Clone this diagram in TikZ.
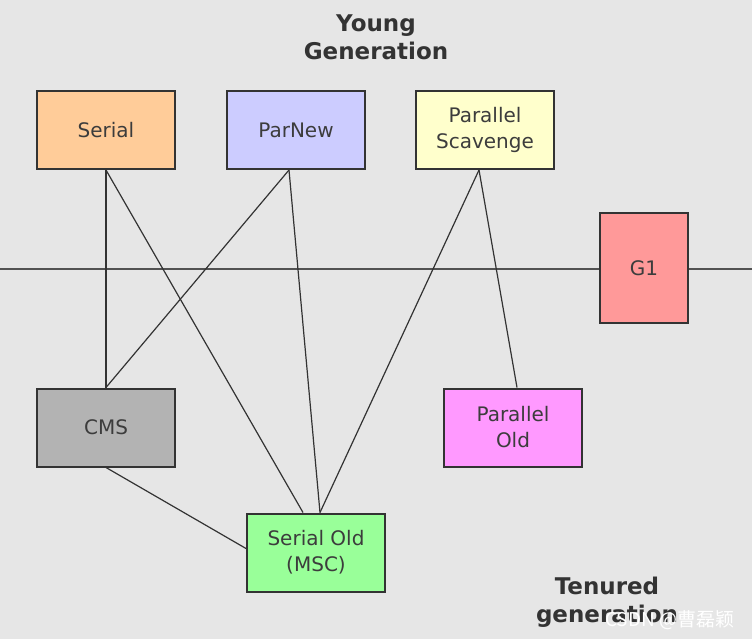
\documentclass[tikz,border=0pt]{standalone}
\usepackage{fontspec}
\setmainfont{DejaVu Sans}
\newfontfamily\cjkfont{Noto Sans CJK SC}
\usetikzlibrary{calc}
\definecolor{bg}{HTML}{E6E6E6}
\definecolor{ink}{HTML}{333333}
\definecolor{txt}{HTML}{3C3C3C}
\definecolor{cSerial}{HTML}{FFCC99}
\definecolor{cParNew}{HTML}{CCCCFF}
\definecolor{cPS}{HTML}{FFFFCC}
\definecolor{cGone}{HTML}{FF9999}
\definecolor{cCMS}{HTML}{B3B3B3}
\definecolor{cPO}{HTML}{FF99FF}
\definecolor{cSO}{HTML}{99FF99}
\tikzset{
  gcbox/.style={draw=ink, line width=2pt, minimum width=138pt, minimum height=78pt,
    inner sep=0pt, align=center, text=txt, font=\fontsize{20}{26}\selectfont},
  conn/.style={draw=ink, line width=1.2pt},
  title/.style={align=center, text=ink, font=\fontsize{23}{28}\selectfont\bfseries}
}
\begin{document}
\begin{tikzpicture}[x=1pt,y=-1pt]
\fill[bg] (0,0) rectangle (752,639);
\useasboundingbox (0,0) rectangle (752,639);
\coordinate (hl) at (0,269);
\coordinate (hr) at (752,269);
\draw[conn, draw=ink!85] (hl) -- (hr);
\node[title] (young) at (376,37) {Young\\Generation};
\node[title] (tenured) at (607,602) {Tenured\\generation};
\node[gcbox, fill=cSerial] (serial) at (106,130) {Serial};
\node[gcbox, fill=cParNew] (parnew) at (296,130) {ParNew};
\node[gcbox, fill=cPS] (ps) at (485,130) {Parallel\\Scavenge};
\node[gcbox, fill=cGone, minimum width=88pt, minimum height=110pt] (g1) at (644,268) {G1};
\node[gcbox, fill=cCMS] (cms) at (106,427.5) {CMS};
\node[gcbox, fill=cPO] (po) at (513,427.5) {Parallel\\Old};
\node[gcbox, fill=cSO] (so) at (316,552.5) {Serial Old\\(MSC)};
\draw[conn] (serial.south) -- (cms.north);
\draw[conn] (serial.south) -- ($(so.north)+(-13,0)$);
\draw[conn] ($(parnew.south)+(-7,0)$) -- (cms.north);
\draw[conn] ($(parnew.south)+(-7,0)$) -- ($(so.north)+(4,0)$);
\draw[conn] ($(ps.south)+(-6,0)$) -- ($(so.north)+(4,0)$);
\draw[conn] ($(ps.south)+(-6,0)$) -- ($(po.north)+(4,0)$);
\draw[conn] (cms.south) -- ($(so.west)+(0,-4)$);
\node[text=white, font=\fontsize{19}{22}\cjkfont, anchor=west, inner sep=0pt] (wm) at (605,620) {CSDN @曹磊颖};
\end{tikzpicture}
\end{document}
